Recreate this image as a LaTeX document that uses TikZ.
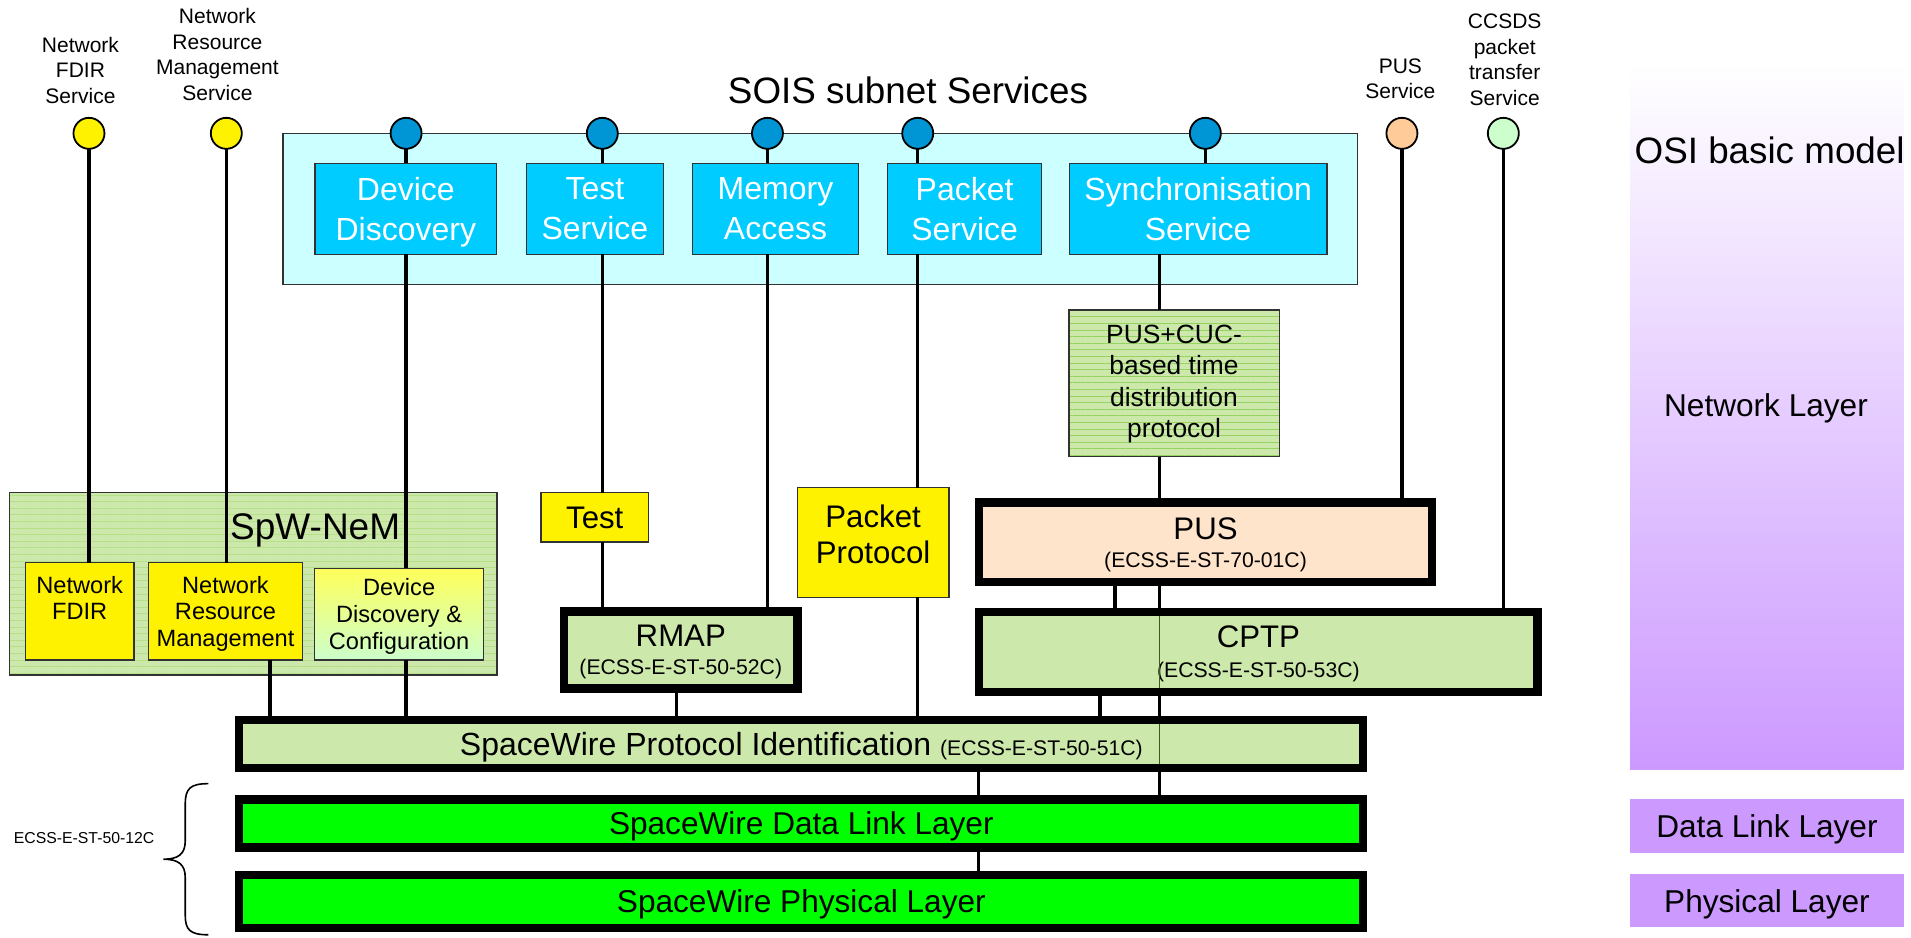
\documentclass[tikz,border=0pt]{standalone}
\usepackage{fontspec}
\setmainfont{Liberation Sans}
\usetikzlibrary{patterns.meta,calc}
\definecolor{cyanbg}{RGB}{204,255,255}
\definecolor{svcblue}{RGB}{0,204,255}
\definecolor{dotblue}{RGB}{0,150,214}
\definecolor{nemgreen}{RGB}{204,232,170}
\definecolor{patgreen}{RGB}{182,224,135}
\definecolor{cucpat}{RGB}{150,210,95}
\definecolor{boxgreen}{RGB}{204,232,170}
\definecolor{puspeach}{RGB}{255,228,204}
\definecolor{dotorange}{RGB}{255,204,153}
\definecolor{dotgreen}{RGB}{204,255,204}
\definecolor{ddtop}{RGB}{255,255,90}
\definecolor{osipurple}{RGB}{204,153,255}
\definecolor{brightgreen}{RGB}{0,255,0}
\definecolor{darkline}{RGB}{50,50,50}
\definecolor{olivel}{RGB}{60,90,25}
\newcommand\fs[2]{\fontsize{#1}{#2}\selectfont}
\begin{document}
\begin{tikzpicture}[x=0.6094pt,y=-0.6094pt,
  every node/.style={inner sep=0pt, outer sep=0pt, text depth=0pt},
  area/.style n args={4}{minimum width={(#3-#1)*0.6094pt}, minimum height={(#4-#2)*0.6094pt}, at={({(#1+#3)/2},{(#2+#4)/2})}},
  box/.style={rectangle, draw=darkline, line width=0.7pt, inner sep=0pt, align=center},
  thickbox/.style={rectangle, draw=black, line width=4.1pt, inner sep=0pt, align=center},
  svc/.style={box, fill=svcblue, text=white, font=\fs{16}{20}},
  dot/.style={circle, draw=black, line width=0.9pt, minimum size=15.5pt},
  nempat/.style={preaction={fill=nemgreen}, pattern={Lines[angle=0,distance=3.3pt,line width=0.4pt]}, pattern color=#1},
  toplabel/.style={align=center, font=\fs{10.5}{12.8}},
  conn/.style={line width=1.6pt, draw=black},
  thinconn/.style={line width=0.6pt, draw=olivel},
  layerlab/.style={rectangle, fill=osipurple, font=\fs{15.8}{19}},
]
\useasboundingbox (0,0) rectangle (1568,769);

% ---- OSI column
\node[rectangle, area={1337.6}{52}{1562}{631}, top color=white, bottom color=osipurple] (osi) {};
\node[font=\fs{18.4}{22}] (osititle) at (1452,123.6) {OSI basic model};
\node[font=\fs{15.8}{19}] (netlayer) at (1449,332) {Network Layer};
\node[layerlab, area={1337.6}{655.6}{1562}{699.6}] (dlllab) {Data Link Layer};
\node[layerlab, area={1337.6}{717}{1562}{761}] (phylab) {Physical Layer};

% ---- SOIS subnet services
\node[font=\fs{18.4}{22}] (soistitle) at (745,74) {SOIS subnet Services};
\node[box, fill=cyanbg, line width=0.8pt, area={232}{109.4}{1113.9}{233.3}] (sois) {};
\node[svc, area={258.5}{134}{407.5}{208.7}] (dd) {Device\\Discovery};
\node[svc, area={432.1}{134}{544.2}{208.7}] (ts) {Test\\Service};
\node[svc, area={568.3}{134}{704.3}{208.7}] (ma) {Memory\\Access};
\node[svc, area={728.3}{134}{854.7}{208.7}] (ps) {Packet\\Service};
\node[svc, area={877.4}{134}{1088.8}{208.7}] (ss) {Synchronisation\\Service};

% ---- service access points
\node[dot, fill=yellow] (dFD) at (73,109.4) {};
\node[dot, fill=yellow] (dNR) at (185.7,109.4) {};
\node[dot, fill=dotblue] (dDD) at (333.2,109.4) {};
\node[dot, fill=dotblue] (dTS) at (494.2,109.4) {};
\node[dot, fill=dotblue] (dMA) at (629.7,109.4) {};
\node[dot, fill=dotblue] (dPS) at (753,109.4) {};
\node[dot, fill=dotblue] (dSS) at (989,109.4) {};
\node[dot, fill=dotorange] (dPU) at (1150.3,109.4) {};
\node[dot, fill=dotgreen] (dCC) at (1233.5,109.4) {};

\node[toplabel] (lFD) at (66,57.7) {Network\\FDIR\\Service};
\node[toplabel] (lNR) at (178.4,44.5) {Network\\Resource\\Management\\Service};
\node[toplabel] (lPU) at (1149,64.5) {PUS\\Service};
\node[toplabel] (lCC) at (1234.6,48.9) {CCSDS\\packet\\transfer\\Service};

% ---- SpW-NeM
\node[box, nempat=patgreen, area={8}{404.2}{407.7}{553.8}] (nem) {};
\node[font=\fs{18.5}{22}] (nemtitle) at (258.6,432.1) {SpW-NeM};
\node[box, fill=yellow, font=\fs{11.8}{13.4}, area={20.9}{461.7}{109.9}{541.5}] (fdir) {Network\\FDIR\\\mbox{}};
\node[box, fill=yellow, font=\fs{11.8}{13.4}, area={122}{461.7}{248}{541.5}] (nrm) {Network\\Resource\\Management};
\node[box, top color=ddtop, bottom color=dotgreen, font=\fs{11.8}{13.4}, area={258.2}{466.3}{396.7}{541.5}] (ddc) {Device\\Discovery \&\\Configuration};

% ---- protocols
\node[box, fill=yellow, font=\fs{15.6}{18.3}, text depth=-1pt, area={444}{404.2}{532}{444.7}] (test) {Test};
\node[box, fill=yellow, font=\fs{15.6}{18.3}, area={654.2}{400.1}{778.6}{490.1}] (pp) {Packet\\Protocol\\[-10pt]\mbox{}};
\node[box, nempat=cucpat, font=\fs{13.2}{15.8}, text depth=2pt, area={877}{254.4}{1049.6}{374.7}] (cuc) {PUS+CUC-\\based time\\distribution\\protocol};
\node[thickbox, fill=puspeach, font=\fs{15.6}{14}, area={803.4}{412.3}{1174.9}{477.4}] (pus) {PUS\\{\fs{10.6}{12}(ECSS-E-ST-70-01C)}};
\node[thickbox, fill=boxgreen, font=\fs{15.6}{14}, text depth=-2pt, area={462.9}{501.7}{654.3}{564.9}] (rmap) {RMAP\\{\fs{10.6}{12}(ECSS-E-ST-50-52C)}};
\node[thickbox, fill=boxgreen, font=\fs{15.6}{14.8}, text depth=-1pt, area={803.4}{502}{1261.6}{567.6}] (cptp) {CPTP\\{\fs{10.6}{12}(ECSS-E-ST-50-53C)}};
\node[thickbox, fill=boxgreen, font=\fs{16}{19}, text depth=-2pt, area={196.4}{590.9}{1118.6}{630.3}] (spw) {SpaceWire Protocol Identification {\fs{10.6}{12}(ECSS-E-ST-50-51C)}};
\node[thickbox, fill=brightgreen, font=\fs{15.8}{19}, text depth=-2pt, area={196.4}{656}{1118.6}{695.4}] (dll) {SpaceWire Data Link Layer};
\node[thickbox, fill=brightgreen, font=\fs{15.8}{19}, text depth=-2pt, area={196.4}{717.8}{1118.6}{761.6}] (phys) {SpaceWire Physical Layer};

% ---- brace
\draw[line width=0.8pt] (171,643) .. controls (156,643) and (152,647) .. (152,660) -- (152,690)
  .. controls (152,701) and (146,705) .. (134,705) .. controls (146,705) and (152,709) .. (152,720)
  -- (152,751) .. controls (152,763) and (156,767) .. (171,767);
\node[font=\fs{7.9}{9}] (ecss) at (69,687.5) {ECSS-E-ST-50-12C};

% ---- column coordinates
\coordinate (kNR) at (221.6,0);
\coordinate (kRM) at (555.2,0);
\coordinate (kSS) at (951.7,0);
\coordinate (kPC) at (914.8,0);
\coordinate (kCS) at (902.5,0);
\coordinate (kDL) at (803,0);

% ---- connectors
\draw[conn] (dFD.south) -- (fdir.north -| dFD.south);
\draw[conn] (dNR.south) -- (nrm.north -| dNR.south);
\draw[conn] (dDD.south) -- (dd.north -| dDD.south);
\draw[conn] (dd.south -| dDD.south) -- (ddc.north -| dDD.south);
\draw[conn] (ddc.south -| dDD.south) -- (spw.north -| dDD.south);
\draw[conn] (nrm.south -| kNR) -- (spw.north -| kNR);
\draw[conn] (dTS.south) -- (ts.north -| dTS.south);
\draw[conn] (ts.south -| dTS.south) -- (test.north -| dTS.south);
\draw[conn] (test.south -| dTS.south) -- (rmap.north -| dTS.south);
\draw[conn] (dMA.south) -- (ma.north -| dMA.south);
\draw[conn] (ma.south -| dMA.south) -- (rmap.north -| dMA.south);
\draw[conn] (rmap.south -| kRM) -- (spw.north -| kRM);
\draw[conn] (dPS.south) -- (ps.north -| dPS.south);
\draw[conn] (ps.south -| dPS.south) -- (pp.north -| dPS.south);
\draw[conn] (pp.south -| dPS.south) -- (spw.north -| dPS.south);
\draw[conn] (dSS.south) -- (ss.north -| dSS.south);
\draw[conn] (ss.south -| kSS) -- (cuc.north -| kSS);
\draw[conn] (cuc.south -| kSS) -- (pus.north -| kSS);
\draw[conn] (pus.south -| kSS) -- (cptp.north -| kSS);
\draw[thinconn] ($(cptp.north -| kSS)+(0,3.4)$) -- ($(cptp.south -| kSS)+(0,-3.4)$);
\draw[conn] (cptp.south -| kSS) -- (spw.north -| kSS);
\draw[thinconn] ($(spw.north -| kSS)+(0,3.4)$) -- ($(spw.south -| kSS)+(0,-3.4)$);
\draw[conn] (spw.south -| kSS) -- (dll.north -| kSS);
\draw[conn] (pus.south -| kPC) -- (cptp.north -| kPC);
\draw[conn] (cptp.south -| kCS) -- (spw.north -| kCS);
\draw[conn] (dPU.south) -- (pus.north -| dPU.south);
\draw[conn] (dCC.south) -- (cptp.north -| dCC.south);
\draw[conn] (spw.south -| kDL) -- (dll.north -| kDL);
\draw[conn] (dll.south -| kDL) -- (phys.north -| kDL);
\end{tikzpicture}
\end{document}
